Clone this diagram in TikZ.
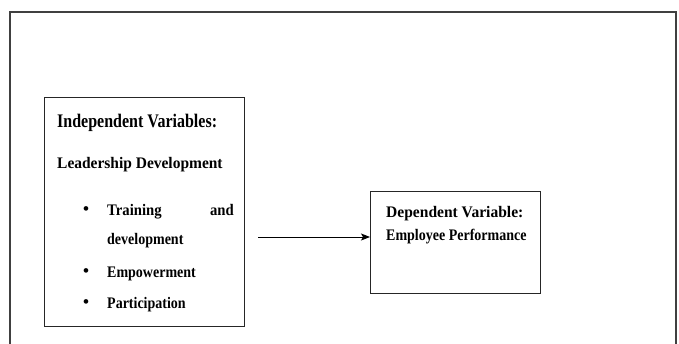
\documentclass[tikz,border=0pt]{standalone}
\usepackage{graphicx}
\usepackage{fontspec}
\setmainfont{Liberation Serif}
\usetikzlibrary{arrows.meta}
\newcommand\sx[2]{\scalebox{#1}[1.15]{#2}}
\begin{document}
\begin{tikzpicture}[x=1pt,y=-1pt,
  frame/.style={draw=black!75,line width=1.4pt},
  boxx/.style={draw=black!85,line width=1.2pt,rectangle,inner sep=0pt,anchor=north west},
  txt/.style={anchor=base west,inner sep=0pt,font=\bfseries\fontsize{14}{16}\selectfont},
  head/.style={anchor=base west,inner sep=0pt,font=\bfseries\fontsize{16}{18}\selectfont},
  blt/.style={anchor=base,inner sep=0pt,font=\bfseries\fontsize{17}{18}\selectfont},
  conn/.style={draw=black,line width=0.9pt,-{Stealth[length=9pt,width=7pt,inset=2pt]}}]
\useasboundingbox (0,0) rectangle (679,343);
\fill[white] (0,0) rectangle (679,343);
\draw[frame] (10,345) -- (10,12) -- (676,12) -- (676,345);
\node[boxx,minimum width=200pt,minimum height=229pt] (indep) at (44,97) {};
\node[boxx,minimum width=170pt,minimum height=102pt] (dep) at (370,191) {};
\node[head] (t1) at (57,127) {\scalebox{1.0}[1.2]{Independent Variables:}};
\node[txt] (t2) at (57,168) {\sx{1.105}{Leadership Development}};
\node[blt] (b1) at (86,214) {•};
\node[txt] (t3) at (107,215) {\sx{1.05}{Training}};
\node[txt,anchor=base east] (t3b) at (234,215) {\sx{1.05}{and}};
\node[txt] (t4) at (107,244) {\sx{1.0}{development}};
\node[blt] (b2) at (86,276) {•};
\node[txt] (t5) at (107,277) {\sx{1.0}{Empowerment}};
\node[blt] (b3) at (86,307) {•};
\node[txt] (t6) at (107,308) {\sx{1.0}{Participation}};
\node[txt] (d1) at (386,217) {\sx{1.11}{Dependent Variable:}};
\node[txt] (d2) at (386,240) {\sx{1.0}{Employee Performance}};
\coordinate (s) at (258,237);
\draw[conn] (s) -- (dep.west |- s);
\end{tikzpicture}
\end{document}
